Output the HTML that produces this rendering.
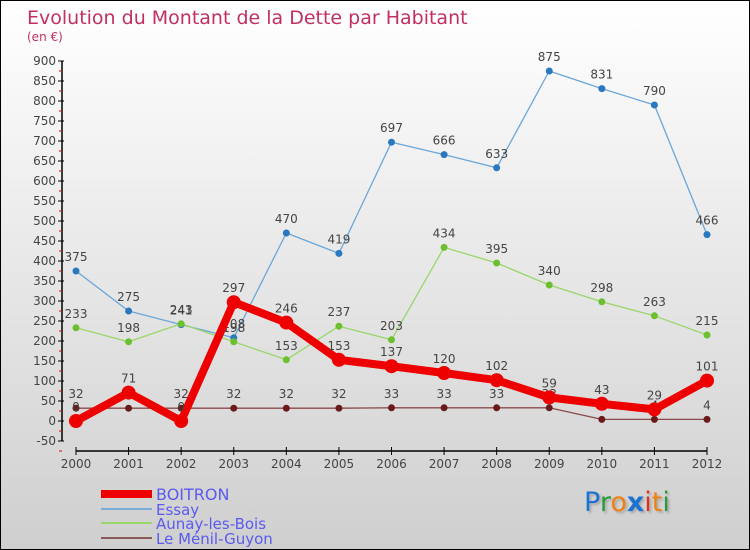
<!DOCTYPE html>
<html><head><meta charset="utf-8"><style>
body{margin:0;}
#wrap{position:relative;width:748px;height:548px;border:1px solid #000;background:linear-gradient(#ffffff,#cfcfcf);overflow:hidden;font-family:"DejaVu Sans","Liberation Sans",sans-serif;}
svg{position:absolute;left:0;top:0}
</style></head><body>
<div id="wrap">
<svg id="c" width="750" height="550">
<text x="26" y="23" font-size="19" fill="#c2305f">Evolution du Montant de la Dette par Habitant</text>
<text x="26" y="40" font-size="12" fill="#c2305f">(en €)</text>
</svg>
<div style="position:absolute;left:583px;top:486px;font-size:27px;font-family:'DejaVu Sans',sans-serif;text-shadow:2px 2px 2px #aaa"><span style="color:#1a73d0">P</span><span style="color:#2a9a3a">r</span><span style="color:#f08010">o</span><span style="color:#1a73d0;font-weight:bold">x</span><span style="color:#e03020">i</span><span style="color:#f08010">t</span><span style="color:#2a9a3a">i</span></div>
</div>
<script>
const years=[2000,2001,2002,2003,2004,2005,2006,2007,2008,2009,2010,2011,2012];
const yTicks=[-50,0,50,100,150,200,250,300,350,400,450,500,550,600,650,700,750,800,850,900];
const boitron=[0,71,0,297,246,153,137,120,102,59,43,29,101];
const essay=[375,275,241,208,470,419,697,666,633,875,831,790,466];
const aunay=[233,198,243,198,153,237,203,434,395,340,298,263,215];
const menil=[32,32,32,32,32,32,33,33,33,33,4,4,4];
const seriesNames=["BOITRON","Essay","Aunay-les-Bois","Le Ménil-Guyon"];
const NS="http://www.w3.org/2000/svg";
const svg=document.getElementById('c');
const xs=i=>75+i*(706-75)/12;
const ys=v=>420-v*0.4;
function mk(t,a,p){const e=document.createElementNS(NS,t);for(const k in a)e.setAttribute(k,a[k]);(p||svg).appendChild(e);return e;}
// axes
const ax=mk('g',{});


mk('line',{x1:61,y1:60,x2:61,y2:440,stroke:'#000','stroke-width':1.5},ax);
yTicks.forEach(v=>{
  mk('line',{x1:57,y1:ys(v),x2:63,y2:ys(v),stroke:'#000'},ax);
  mk('line',{x1:58,y1:ys(v)+10,x2:61,y2:ys(v)+10,stroke:'#e00'},ax);
  const t=mk('text',{x:55,y:ys(v)+4,'text-anchor':'end','font-size':12,fill:'#444'},ax);t.textContent=v;
  
  
});
const xa=mk('g',{});


mk('line',{x1:75,y1:450,x2:706,y2:450,stroke:'#000','stroke-width':1.5},xa);
years.forEach((y,i)=>{
  mk('line',{x1:xs(i),y1:446,x2:xs(i),y2:454,stroke:'#000'},xa);
  const t=mk('text',{x:xs(i),y:467,'text-anchor':'middle','font-size':12,fill:'#444'},xa);t.textContent=y;
  
  
});
function series(data,color,w,r,name,dot){
  const g=mk('g',{});
  
  
  mk('polyline',{points:data.map((v,i)=>xs(i)+','+ys(v)).join(' '),fill:'none',stroke:color,'stroke-width':w,'stroke-linejoin':'round'},g);
  data.forEach((v,i)=>{
    const c=mk('circle',{cx:xs(i),cy:ys(v),r:r,fill:dot},g);
    
    
    const t=mk('text',{x:xs(i),y:ys(v)-10,'text-anchor':'middle','font-size':12,fill:'#444'},g);t.textContent=v;
    
    
  });
}
series(essay,'#6aa6d8',1.3,3.5,'series-essay','#2a78c0');
series(aunay,'#9ad66a',1.3,3.5,'series-aunay','#6cc030');
series(menil,'#8a4a4a',1.3,3.5,'series-menil','#6a1a1a');
series(boitron,'#ee0000',8,7,'series-boitron','#ee0000');
// legend
const lg=mk('g',{});


const lc=['#ee0000','#7aaed8','#9ad66a','#8a5a5a'],lw=[8,2,2,2],ly=[493,508,522,537];
seriesNames.forEach((n,i)=>{
  const e=mk('g',{},lg);
  
  
  mk('line',{x1:100,y1:ly[i],x2:151,y2:ly[i],stroke:lc[i],'stroke-width':lw[i]},e);
  const t=mk('text',{x:155,y:ly[i]+6,'font-size':i==0?16:15,fill:'#5a5af0'},e);t.textContent=n;
});
</script>
</body></html>
